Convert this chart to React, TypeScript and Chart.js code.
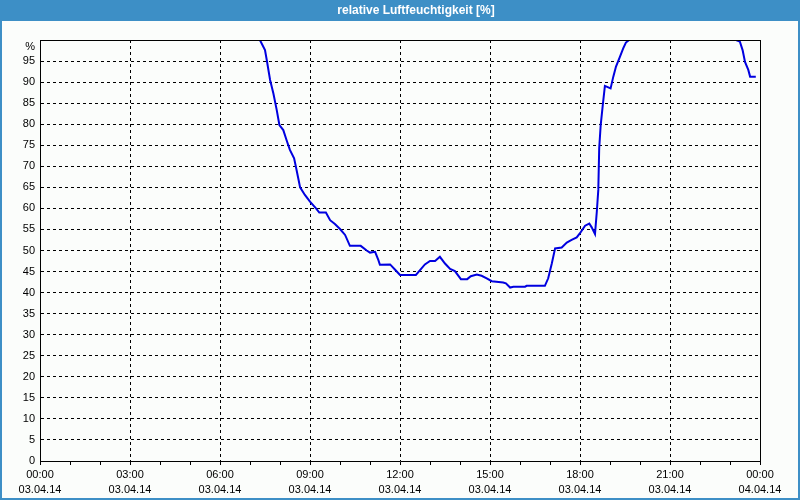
import React, { useEffect, useRef } from "react";
import { Chart, registerables } from "chart.js";

Chart.register(...registerables);

const TITLE = "relative Luftfeuchtigkeit [%]";
const DAY1 = "03.04.14";
const DAY2 = "04.04.14";

// time of day in hours
const hours: number[] = [
  0, 7.33, 7.5, 7.56, 7.67, 7.78, 7.89, 7.98, 8.11, 8.22, 8.33, 8.47, 8.53, 8.61, 8.67, 8.83,
  9.0, 9.2, 9.31, 9.53, 9.67, 9.83, 10.0, 10.17, 10.33, 10.69, 10.89, 11.0, 11.17, 11.28, 11.33,
  11.67, 11.83, 12.0, 12.53, 12.83, 13.0, 13.17, 13.33, 13.5, 13.67, 13.83, 14.03, 14.24, 14.36,
  14.56, 14.72, 14.89, 15.06, 15.44, 15.53, 15.67, 15.78, 16.17, 16.22, 16.83, 16.94, 17.06,
  17.17, 17.39, 17.56, 17.72, 17.89, 18.0, 18.17, 18.31, 18.39, 18.5, 18.56, 18.61, 18.64, 18.69,
  18.76, 18.83, 19.02, 19.11, 19.2, 19.33, 19.44, 19.53, 19.64, 23.2, 23.33, 23.42, 23.5, 23.61,
  23.67, 23.86,
];

// relative humidity in %
const humidity: number[] = [
  100, 100, 97.6, 95.2, 90.5, 87.3, 83.4, 79.8, 78.6, 76.2, 73.9, 71.9, 69.9, 67.1, 65.0, 63.2,
  61.6, 60.0, 59.0, 59.0, 57.2, 56.3, 55.1, 53.7, 51.1, 51.1, 50.0, 49.5, 49.7, 47.7, 46.6,
  46.7, 45.5, 44.2, 44.2, 46.7, 47.5, 47.5, 48.5, 46.9, 45.6, 45.1, 43.2, 43.2, 43.9,
  44.3, 44.0, 43.4, 42.7, 42.4, 42.2, 41.2, 41.4, 41.4, 41.6, 41.6, 43.4, 46.9,
  50.5, 50.7, 51.9, 52.5, 53.1, 54.1, 55.9, 56.4, 55.5, 53.9, 59.2, 64.4, 74.3, 79.8,
  84.6, 89.1, 88.5, 91.3, 93.7, 96.0, 98.0, 99.4, 100, 100, 99.6, 97.6, 94.8, 92.9,
  91.3, 91.3,
];

const xTickHours: number[] = [0, 3, 6, 9, 12, 15, 18, 21, 24];

const BLUE_BAR = "#3d8fc6";
const BG = "#fbfdfb";
const LINE = "#0000e0";
const FONT = "'Liberation Sans', Arial, sans-serif";

const framePlugin = {
  id: "frame",
  afterLayout(chart: any) {
    // let the y tick labels use the whole left margin (no clipping)
    const y = chart.scales.y;
    if (y) y.left = 0;
  },
  beforeDraw(chart: any) {
    const { ctx, width, height } = chart;
    ctx.save();
    ctx.fillStyle = BG;
    ctx.fillRect(0, 0, width, height);
    ctx.fillStyle = BLUE_BAR;
    ctx.fillRect(0, 0, width, 21);
    ctx.strokeStyle = BLUE_BAR;
    ctx.lineWidth = 2;
    ctx.strokeRect(1, 1, width - 2, height - 2);
    ctx.restore();
  },
  afterDatasetsDraw(chart: any) {
    const { ctx, chartArea } = chart;
    ctx.save();
    ctx.strokeStyle = "#000";
    ctx.lineWidth = 1;
    ctx.beginPath();
    ctx.moveTo(chartArea.left, chartArea.top + 0.5);
    ctx.lineTo(chartArea.right + 1, chartArea.top + 0.5);
    ctx.moveTo(chartArea.right + 0.5, chartArea.top);
    ctx.lineTo(chartArea.right + 0.5, chartArea.bottom + 1);
    ctx.stroke();
    ctx.restore();
  },
};

export default function App() {
  const ref = useRef<HTMLCanvasElement | null>(null);

  useEffect(() => {
    if (!ref.current) return;
    const points = hours.map((h, i) => ({ x: h, y: humidity[i] }));
    const chart = new Chart(ref.current, {
      type: "line",
      data: {
        datasets: [
          {
            data: points,
            borderColor: LINE,
            borderWidth: 2,
            pointRadius: 0,
            tension: 0,
            fill: false,
            clip: 0,
          } as any,
        ],
      },
      options: {
        responsive: false,
        animation: false,
        devicePixelRatio: 1,
        layout: { padding: { left: 32, right: 0, top: 0, bottom: 0 } },
        plugins: {
          legend: { display: false },
          tooltip: { enabled: false },
          title: {
            display: true,
            text: TITLE,
            color: "#ffffff",
            font: { family: FONT, size: 12, weight: "bold", lineHeight: 1 },
            padding: { top: 4.5, bottom: 23.5 },
          },
        },
        scales: {
          x: {
            type: "linear",
            min: 0,
            max: 24,
            afterFit: (s: any) => {
              s.height = 39;
            },
            ticks: {
              stepSize: 1,
              autoSkip: false,
              maxRotation: 0,
              padding: 2,
              color: "#000",
              font: { family: FONT, size: 11, lineHeight: "15px" as any },
              callback: (v: any) => {
                const n = Number(v);
                if (!xTickHours.includes(n)) return "";
                const hh = String(n % 24).padStart(2, "0") + ":00";
                return [hh, n === 24 ? DAY2 : DAY1];
              },
            },
            grid: {
              color: (c: any) => {
                const v = c.tick ? c.tick.value : -1;
                return v % 3 === 0 && v !== 0 && v !== 24 ? "#000" : "rgba(0,0,0,0)";
              },
              tickColor: "#000",
              tickLength: 4,
              tickBorderDash: [],
              lineWidth: 1,
            } as any,
            border: { display: true, color: "#000", width: 1, dash: [3, 3] },
          },
          y: {
            type: "linear",
            min: 0,
            max: 100,
            afterFit: (s: any) => {
              s.width = 8;
            },
            ticks: {
              stepSize: 5,
              autoSkip: false,
              padding: 5,
              color: "#000",
              font: { family: FONT, size: 11, lineHeight: 1.2 },
              callback: (v: any) => (Number(v) === 100 ? ["", "%"] : String(v)),
            },
            grid: {
              drawTicks: false,
              color: (c: any) => {
                const v = c.tick ? c.tick.value : -1;
                return v > 0 && v < 100 ? "#000" : "rgba(0,0,0,0)";
              },
              lineWidth: 1,
            },
            border: { display: true, color: "#000", width: 1, dash: [3, 3] },
          },
          r: {
            type: "linear",
            position: "right",
            min: 0,
            max: 100,
            display: true,
            afterFit: (s: any) => {
              s.width = 40;
            },
            ticks: { display: false },
            grid: { display: false, drawTicks: false },
            border: { display: false },
          },
        },
      } as any,
      plugins: [framePlugin],
    });
    return () => chart.destroy();
  }, []);

  return (
    <div style={{ position: "absolute", left: 0, top: 0, width: 800, height: 500 }}>
      <canvas ref={ref} width={800} height={500} style={{ width: 800, height: 500, display: "block" }} />
    </div>
  );
}
